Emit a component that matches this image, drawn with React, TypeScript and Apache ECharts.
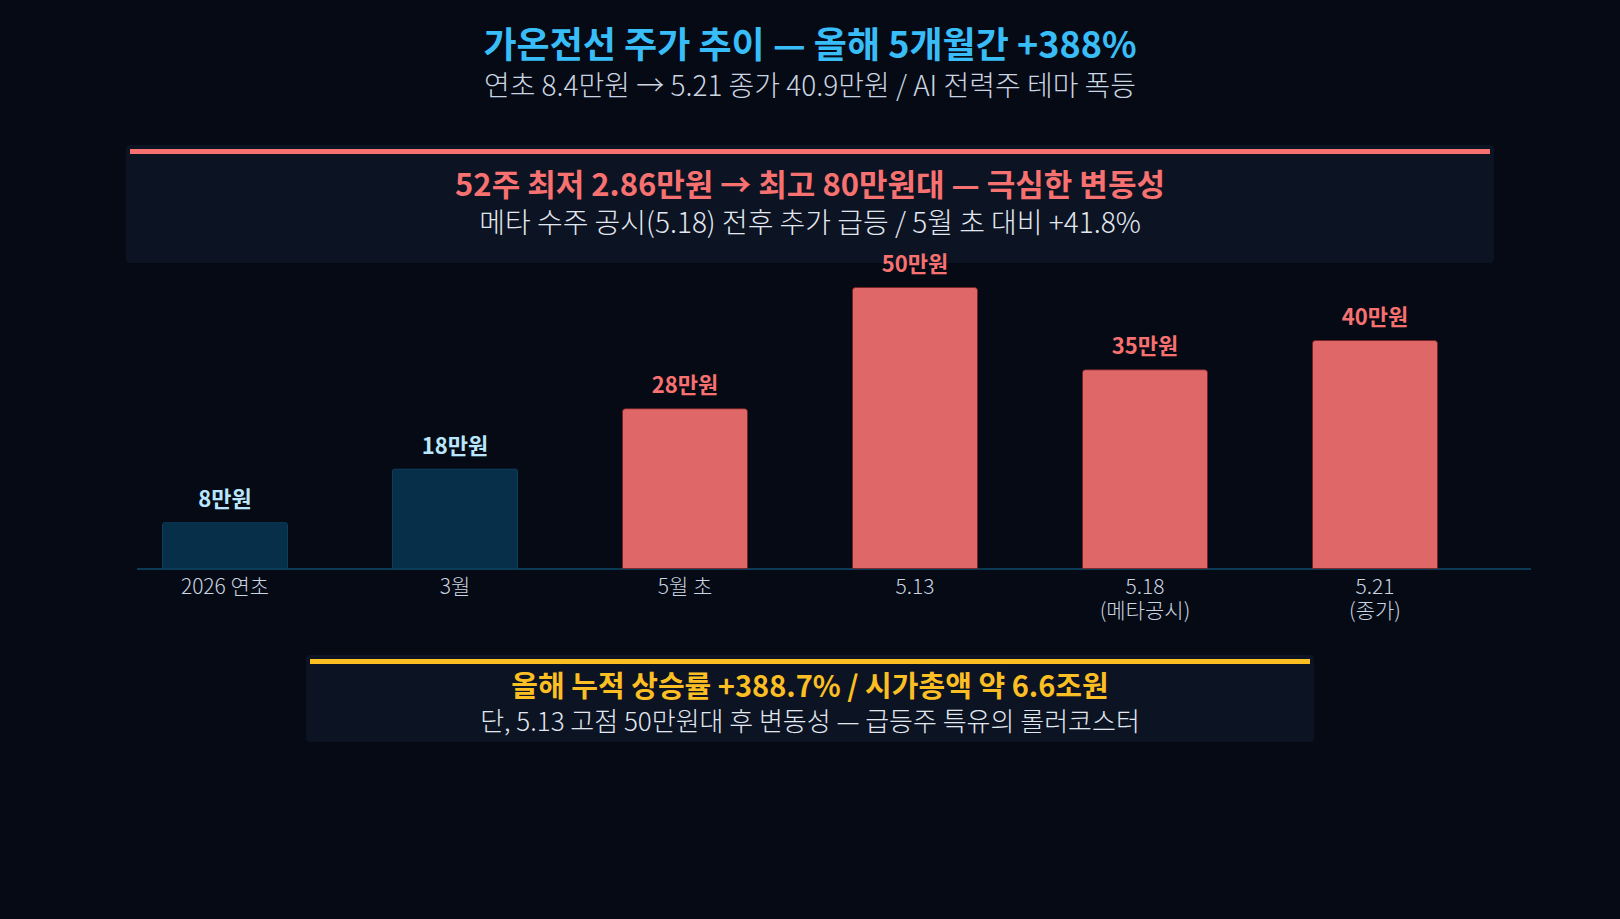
import React, { useEffect, useRef } from 'react';
import * as echarts from 'echarts';

const categories = ['2026 연초', '3월', '5월 초', '5.13', '5.18\n(메타공시)', '5.21\n(종가)'];
const prices = [8.3, 17.8, 28.5, 50, 35.4, 40.6]; // 만원
const priceLabels = ['8만원', '18만원', '28만원', '50만원', '35만원', '40만원'];
const surge = [false, false, true, true, true, true];

const titleText = '가온전선 주가 추이 — 올해 5개월간 +388%';
const subText = '연초 8.4만원 → 5.21 종가 40.9만원 / AI 전력주 테마 폭등';
const topNoteTitle = '52주 최저 2.86만원 → 최고 80만원대 — 극심한 변동성';
const topNoteSub = '메타 수주 공시(5.18) 전후 추가 급등 / 5월 초 대비 +41.8%';
const bottomNoteTitle = '올해 누적 상승률 +388.7% / 시가총액 약 6.6조원';
const bottomNoteSub = '단, 5.13 고점 50만원대 후 변동성 — 급등주 특유의 롤러코스터';

const FONT = '"Noto Sans CJK KR", "Noto Sans", sans-serif';
const W = 1620;
const H = 919;

const App: React.FC = () => {
  const chartRef = useRef<HTMLDivElement>(null);

  useEffect(() => {
    document.body.style.margin = '0';
    document.body.style.background = '#050a14';
    if (!chartRef.current) return;
    const chart = echarts.init(chartRef.current, null, { renderer: 'svg' });

    const text = (y: number, t: string, size: number, color: string, weight: any) => ({
      type: 'text',
      x: W / 2,
      y,
      z: 10,
      style: {
        text: t,
        fill: color,
        font: `${weight} ${size}px ${FONT}`,
        lineHeight: size,
        textAlign: 'center',
        textVerticalAlign: 'middle',
      },
    });

    chart.setOption({
      animation: false,
      backgroundColor: '#050a14',
      grid: { left: 110, right: 130, top: 230.6, bottom: 350 },
      xAxis: {
        type: 'category',
        data: categories,
        axisLine: { show: false },
        axisTick: { show: false },
        axisLabel: {
          color: '#cbd5e1',
          fontFamily: FONT,
          fontSize: 21,
          fontWeight: 300,
          lineHeight: 24,
          margin: 4,
        },
      },
      yAxis: {
        type: 'value',
        min: 0,
        max: 60,
        show: false,
        splitLine: { show: false },
      },
      graphic: [
        // axis base line
        {
          type: 'line',
          z: 0,
          shape: { x1: 137, y1: 569, x2: 1531, y2: 569 },
          style: { stroke: '#0b3a55', lineWidth: 2 },
        },
        text(42, titleText, 36, '#38bdf8', 'bold'),
        text(84, subText, 28, '#cbd5e1', 300),
        {
          type: 'rect',
          z: 1,
          shape: { x: 126, y: 145, width: 1368, height: 118, r: 4 },
          style: { fill: '#0c1322' },
        },
        {
          type: 'rect',
          z: 2,
          shape: { x: 130, y: 149, width: 1360, height: 5 },
          style: { fill: '#f87171' },
        },
        text(182, topNoteTitle, 31, '#f87171', 'bold'),
        text(221, topNoteSub, 28, '#e2e8f0', 300),
        {
          type: 'rect',
          z: 1,
          shape: { x: 306, y: 655, width: 1008, height: 87, r: 4 },
          style: { fill: '#0c1322' },
        },
        {
          type: 'rect',
          z: 2,
          shape: { x: 310, y: 659, width: 1000, height: 5 },
          style: { fill: '#fbbf24' },
        },
        text(684, bottomNoteTitle, 29, '#fbbf24', 'bold'),
        text(719, bottomNoteSub, 26, '#e2e8f0', 300),
      ],
      series: [
        {
          type: 'bar',
          z: 5,
          barWidth: 126,
          data: prices.map((v, i) => ({
            value: v,
            itemStyle: surge[i]
              ? { color: '#e06767', borderColor: 'rgba(120,30,30,0.7)', borderWidth: 1, borderRadius: [3, 3, 0, 0] }
              : { color: '#082f49', borderColor: '#0b3d5c', borderWidth: 1, borderRadius: [2, 2, 0, 0] },
            label: { color: surge[i] ? '#f87171' : '#bae6fd' },
          })),
          label: {
            show: true,
            position: 'top',
            distance: 14,
            fontFamily: FONT,
            fontSize: 22,
            fontWeight: 'bold',
            formatter: (p: any) => priceLabels[p.dataIndex],
          },
        },
      ],
    });

    return () => {
      chart.dispose();
    };
  }, []);

  return <div ref={chartRef} style={{ width: W, height: H }} />;
};

export default App;
